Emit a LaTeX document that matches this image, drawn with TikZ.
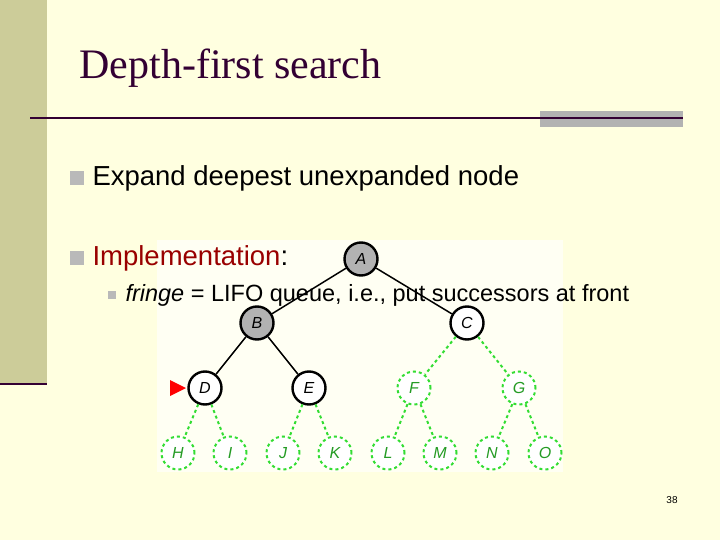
\documentclass[tikz,border=0pt]{standalone}
\usepackage{fontspec}
\setmainfont{Liberation Sans}
\newfontfamily\titlefont{Liberation Serif}
\definecolor{bg}{HTML}{FFFFE0}
\definecolor{barc}{HTML}{CCCC99}
\definecolor{dk}{HTML}{330033}
\definecolor{grn}{HTML}{33DD33}
\definecolor{implred}{HTML}{990000}
\begin{document}
\begin{tikzpicture}[x=1pt,y=-1pt,
  nb/.style={circle,minimum size=33pt,inner sep=0pt,font=\itshape\fontsize{16}{17}\selectfont},
  vis/.style={nb,draw=black,line width=2.4pt,fill=gray!60},
  fr/.style={nb,draw=black,line width=2.4pt,fill=white},
  un/.style={nb,draw=grn,dashed,line width=2pt,fill=white,text=grn!70!black},
  ed/.style={line width=1.5pt},
  ug/.style={draw=grn,dashed,line width=2pt},
  bul/.style={fill=gray!55,minimum size=14pt,inner sep=0pt}]
\useasboundingbox (0,0) rectangle (720,540);
\fill[bg] (0,0) rectangle (720,540);
\fill[barc] (0,0) rectangle (47,385);
\draw[dk,line width=2pt] (0,384) -- (47,384);
\fill[gray!60] (540,111) rectangle (683,127);
\draw[dk,line width=2.5pt] (30,118) -- (683,118);
\node[anchor=west,text=dk,font=\titlefont\fontsize{42}{46}\selectfont] (title) at (76,68) {Depth-first search};
\node[bul] (b1) at (77,178) {};
\node[anchor=west,font=\fontsize{27.5}{30}\selectfont] (t1) at (89,178) {Expand deepest unexpanded node};
\fill[white!60!bg] (157,240) rectangle (563,472);
\node[bul] (b2) at (77,258) {};
\node[anchor=west,font=\fontsize{27.5}{30}\selectfont] (t2) at (89,258) {\textcolor{implred}{Implementation}:};
\node[fill=gray!55,minimum size=8pt,inner sep=0pt] (b3) at (112,295) {};
\node[vis] (A) at (361,259) {A};
\node[vis] (B) at (257,323) {B};
\node[fr] (C) at (467,323) {C};
\node[fr] (D) at (205,388) {D};
\node[fr] (E) at (309,388) {E};
\node[un] (F) at (414,388) {F};
\node[un] (G) at (519,388) {G};
\foreach \n/\x in {H/178,I/230,J/283,K/335,L/388,M/440,N/492,O/545}
  \node[un] (\n) at (\x,453) {\n};
\draw[ed] (A)--(B); \draw[ed] (A)--(C); \draw[ed] (B)--(D); \draw[ed] (B)--(E);
\draw[ug] (C)--(F); \draw[ug] (C)--(G);
\foreach \p/\a/\b in {D/H/I,E/J/K,F/L/M,G/N/O}{\draw[ug] (\p)--(\a); \draw[ug] (\p)--(\b);}
\fill[red] (170,380) -- (170,396) -- (186,388) -- cycle;
\node[anchor=west,font=\fontsize{23.5}{26}\selectfont] (t3) at (122,295) {\textit{fringe} = LIFO queue, i.e., put successors at front};
\node[font=\fontsize{10}{12}\selectfont] (pg) at (672,500) {38};
\end{tikzpicture}
\end{document}
